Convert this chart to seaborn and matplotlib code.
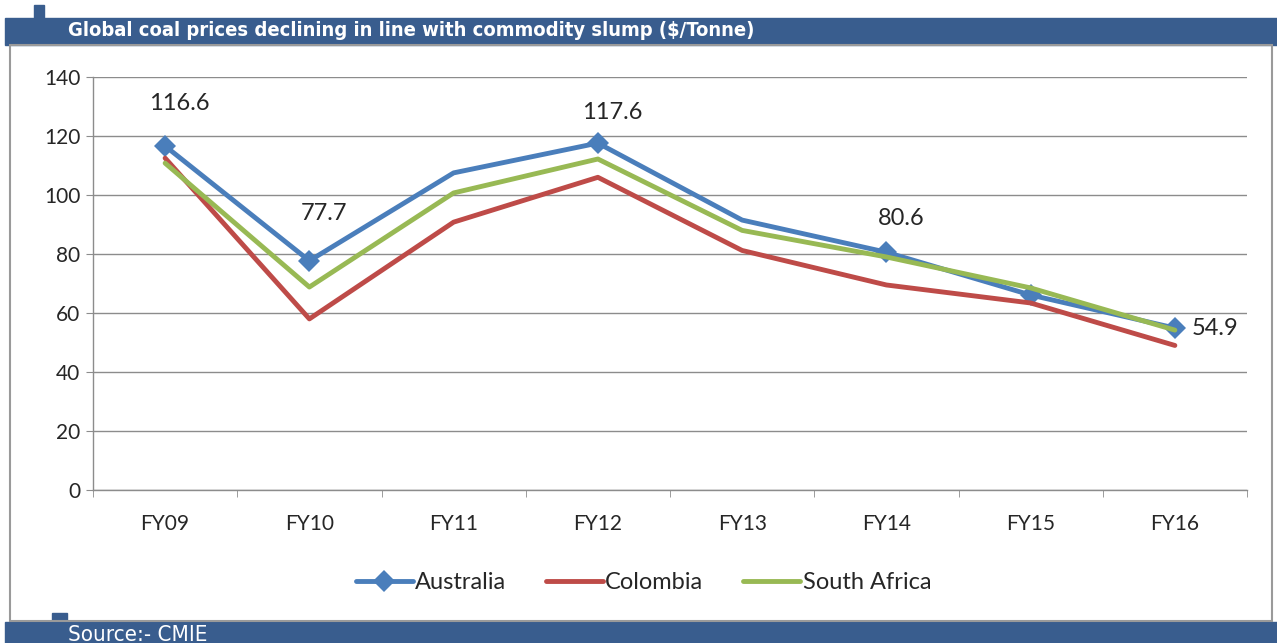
import matplotlib
matplotlib.use("Agg")
import matplotlib.pyplot as plt
import matplotlib.patches as mpatches
import pandas as pd
import seaborn as sns

years = ["FY09", "FY10", "FY11", "FY12", "FY13", "FY14", "FY15", "FY16"]
australia = [116.6, 77.7, 107.5, 117.6, 91.5, 80.6, 66.1, 54.9]
colombia = [112.5, 58.0, 90.8, 106.0, 81.2, 69.5, 63.4, 49.0]
south_africa = [110.8, 68.8, 100.7, 112.2, 88.0, 79.0, 68.5, 54.2]
label_idx = [0, 1, 3, 5, 7]  # points that carry a value label
marker_idx = [0, 1, 3, 5, 6, 7]  # points drawn with a diamond

sns.set_style("white")
plt.rcParams['font.family'] = ['Lato', 'DejaVu Sans']

fig = plt.figure(figsize=(12.77, 6.43), dpi=100)

# header / footer bars
blue_bar = "#395d8e"
fig.patches.append(mpatches.Rectangle((5 / 1277, 1 - 45 / 643), 1, 27 / 643,
                                      transform=fig.transFigure, color=blue_bar, zorder=0))
fig.patches.append(mpatches.Rectangle((34 / 1277, 1 - 19 / 643), 10 / 1277, 14 / 643,
                                      transform=fig.transFigure, color=blue_bar, zorder=0))
fig.patches.append(mpatches.Rectangle((5 / 1277, 0), 1, 21 / 643,
                                      transform=fig.transFigure, color=blue_bar, zorder=0))
fig.patches.append(mpatches.Rectangle((52 / 1277, 21 / 643), 15 / 1277, 9 / 643,
                                      transform=fig.transFigure, color=blue_bar, zorder=0))
# chart frame
fig.patches.append(mpatches.Rectangle((10 / 1277, 22 / 643), 1262 / 1277, 576 / 643,
                                      transform=fig.transFigure, fill=False,
                                      edgecolor="#9a9a9a", lw=1.5, zorder=0))

fig.text(68 / 1277, 1 - 31 / 643, "Global coal prices declining in line with commodity slump ($/Tonne)",
         color="white", fontsize=14.5, fontweight="bold", va="center",
         family="DejaVu Sans", fontstretch="condensed")
fig.text(68 / 1277, 1 - 645 / 643, "Source:- CMIE", color="white", fontsize=16,
         va="bottom", family="DejaVu Sans", fontstretch="condensed")

ax = fig.add_axes([93 / 1277, 153 / 643, 1154 / 1277, 413 / 643])

df = pd.DataFrame({"year": years * 3,
                   "price": australia + colombia + south_africa,
                   "country": ["Australia"] * 8 + ["Colombia"] * 8 + ["South Africa"] * 8})

colors = {"Australia": "#4a7ebb", "Colombia": "#be4b48", "South Africa": "#98b954"}
sns.lineplot(data=df[df.country == "Colombia"], x="year", y="price", color=colors["Colombia"],
             lw=3.5, sort=False, label="Colombia", ax=ax, zorder=3)
sns.lineplot(data=df[df.country == "South Africa"], x="year", y="price", color=colors["South Africa"],
             lw=3.5, sort=False, label="South Africa", ax=ax, zorder=4)
sns.lineplot(data=df[df.country == "Australia"], x="year", y="price", color=colors["Australia"],
             lw=3.5, sort=False, marker="D", markersize=11, markeredgewidth=0,
             markevery=marker_idx, label="Australia", ax=ax, zorder=2)

offsets = {0: 14.5, 1: 16, 3: 10.5, 5: 11.5}
for i in label_idx:
    if i == 7:
        ax.text(i + 0.12, australia[i], f"{australia[i]}", fontsize=17, va="center", ha="left")
    else:
        ax.text(i + 0.1, australia[i] + offsets[i], f"{australia[i]}", fontsize=17,
                va="center", ha="center")

ax.set_xlim(-0.5, 7.5)
ax.set_ylim(0, 140)
ax.set_yticks(range(0, 141, 20))
ax.yaxis.grid(True, color="#8c8c8c", lw=1)
ax.set_axisbelow(True)
ax.set_xlabel("")
ax.set_ylabel("")
for s in ["top", "right"]:
    ax.spines[s].set_visible(False)
for s in ["left", "bottom"]:
    ax.spines[s].set_color("#8c8c8c")
    ax.spines[s].set_linewidth(1)
ax.tick_params(axis="y", labelsize=15, length=5, color="#8c8c8c", left=True, pad=4)
ax.tick_params(axis="x", labelsize=15, length=0, pad=17)
ax.set_xticks([x - 0.5 for x in range(9)], minor=True)
ax.tick_params(axis="x", which="minor", length=5, color="#8c8c8c", bottom=True)

handles, labels = ax.get_legend_handles_labels()
order = [labels.index(n) for n in ["Australia", "Colombia", "South Africa"]]
ax.legend([handles[i] for i in order], [labels[i] for i in order], loc="center",
          bbox_to_anchor=(0.477, -0.225), ncol=3, frameon=False, fontsize=17,
          handlelength=2.4, columnspacing=1.7, handletextpad=0.1)

fig.savefig("out.png", dpi=100)
